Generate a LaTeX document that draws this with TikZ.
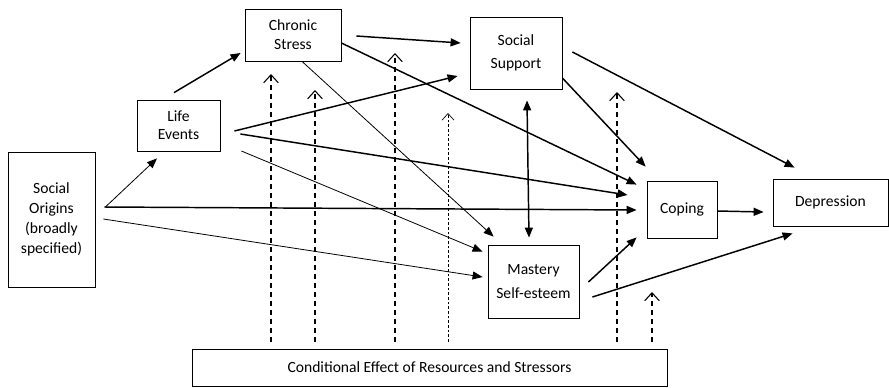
\documentclass[tikz,border=0pt]{standalone}
\usepackage{fontspec}
\setmainfont{Carlito}
\usetikzlibrary{arrows.meta,calc}
\begin{document}
\begin{tikzpicture}[x=0.75pt,y=-0.75pt,
  box/.style={draw,line width=0.6pt,inner sep=0pt,align=center,
    font=\fontsize{11.7}{15}\selectfont},
  thick arrow/.style={line width=1.1pt,-{Triangle[length=7.5pt,width=6pt]}},
  thin arrow/.style={line width=0.6pt,-{Triangle[length=7.5pt,width=6pt]}},
  cond/.style={line width=1pt,dash pattern=on 3.75pt off 3pt,
    -{Straight Barb[length=6pt,width=11pt,line width=0.8pt]}},
  cond dotted/.style={line width=0.6pt,dash pattern=on 2pt off 1.5pt,
    -{Straight Barb[length=5pt,width=9pt,line width=0.5pt]}}]
\useasboundingbox (0,0) rectangle (889,387);

% boxes
\node[box,minimum width=65.25pt,minimum height=101.25pt] (SO) at (51.5,219.5)
  {Social\\Origins\\(broadly\\specified)};
\node[box,minimum width=62.25pt,minimum height=38.25pt,
  font=\fontsize{11.7}{13.5}\selectfont] (LE) at (178.5,125.5) {Life\\Events};
\node[box,minimum width=72pt,minimum height=39pt,
  font=\fontsize{11.7}{14.25}\selectfont] (CS) at (293,35) {Chronic\\Stress};
\node[box,minimum width=69pt,minimum height=54pt,
  font=\fontsize{11.7}{17}\selectfont] (SS) at (516,53) {Social\\Support};
\node[box,minimum width=52.5pt,minimum height=42.75pt] (CO) at (682,209.5) {Coping};
\node[box,minimum width=86.25pt,minimum height=35.25pt] (DE) at (830.5,202.5) {Depression};
\node[box,minimum width=68.25pt,minimum height=54.75pt,
  font=\fontsize{11.7}{18}\selectfont] (MA) at (533.5,281.5) {Mastery\\Self-esteem};
\node[box,minimum width=356.25pt,minimum height=27.75pt] (CE) at (429.5,367.5)
  {Conditional Effect of Resources and Stressors};

% causal paths
\draw[thin arrow]  ([shift={(10,-12.5)}]SO.east) -- ([shift={(-21.5,7)}]LE.south);
\draw[thick arrow] ([shift={(-4.5,-7)}]LE.north) -- ([shift={(-4,18)}]CS.west);
\draw[thick arrow] ([shift={(15,1)}]CS.east) -- ([shift={(-9,-10)}]SS.west);
\draw[thick arrow] ([shift={(0,8)}]CS.east) -- ([shift={(-10,4)}]CO.north west);
\draw[thick arrow] ([shift={(14,5.5)}]LE.east) -- ([shift={(-12,23)}]SS.west);
\draw[thick arrow] ([shift={(20,8.5)}]LE.east) -- ([shift={(-19,-14.5)}]CO.west);
\draw[thin arrow]  ([shift={(21,25.5)}]LE.east) -- ([shift={(-5,7)}]MA.north west);
\draw[thin arrow]  ([shift={(9,0)}]CS.south) -- ([shift={(6,-8)}]MA.north west);
\draw[thick arrow] ([shift={(9,-12.5)}]SO.east) -- ([shift={(-10,0.5)}]CO.west);
\draw[thin arrow]  ([shift={(8,-0.5)}]SO.east) -- ([shift={(-5,-4.5)}]MA.west);
\draw[thick arrow,{Triangle[length=7.5pt,width=6pt]}-{Triangle[length=7.5pt,width=6pt]}]
  ([shift={(11,11)}]SS.south) -- ([shift={(-4.5,-7)}]MA.north);
\draw[thick arrow] ([shift={(0,25)}]SS.east) -- ([shift={(-1,-14)}]CO.north west);
\draw[thick arrow] ([shift={(10,-1)}]SS.east) -- ([shift={(22,-11)}]DE.north west);
\draw[thick arrow] ([shift={(0,1.5)}]CO.east) -- ([shift={(-9,9.5)}]DE.west);
\draw[thick arrow] ([shift={(9,0.5)}]MA.east) -- ([shift={(-10,-1)}]CO.south west);
\draw[thick arrow] ([shift={(13,15.5)}]MA.east) -- ([shift={(20,7)}]DE.south west);

% conditional effects
\coordinate (c1) at (271,74);
\coordinate (c2) at (315,90);
\coordinate (c3) at (395,53);
\coordinate (c4) at (448,113);
\coordinate (c5) at (617,92);
\coordinate (c6) at (652,292);
\foreach \c in {c1,c2,c3,c5,c6}
  \draw[cond] ($(CE.north -| \c)+(0,-7)$) -- (\c);
\draw[cond dotted] ($(CE.north -| c4)+(0,-7)$) -- (c4);
\end{tikzpicture}
\end{document}
